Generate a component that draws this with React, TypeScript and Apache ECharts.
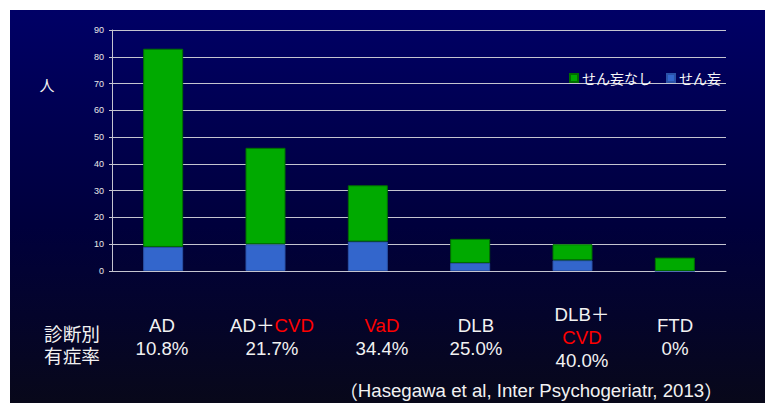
import React, { useEffect, useRef } from "react";
import * as echarts from "echarts";

const categories = ["AD", "AD+CVD", "VaD", "DLB", "DLB+CVD", "FTD"];
const deliriumValues = [9, 10, 11, 3, 4, 0];
const noDeliriumValues = [74, 36, 21, 9, 6, 5];
const yTicks = [0, 10, 20, 30, 40, 50, 60, 70, 80, 90];
const seriesNames = ["せん妄なし", "せん妄"];
const rateLabels = [
  "{w|AD}\n{w|10.8%}",
  "{w|AD＋}{r|CVD}\n{w|21.7%}",
  "{r|VaD}\n{w|34.4%}",
  "{w|DLB}\n{w|25.0%}",
  "{w|DLB＋}\n{r|CVD}\n{w|40.0%}",
  "{w|FTD}\n{w|0%}",
];
const rowTitleLines = ["診断別", "有症率"];
const unitLabel = "人";
const citation = "{p|（}{t|Hasegawa et al, Inter Psychogeriatr, 2013}{p|）}";

// layout only
const labelX = [162, 272, 382, 476, 582, 675];
const FS = 18.67;

const LATIN = "'Liberation Sans', Arial, 'Noto Sans CJK JP', sans-serif";
const CJK = "'Noto Sans CJK JP', sans-serif";

export default function App() {
  const ref = useRef<HTMLDivElement>(null);
  useEffect(() => {
    if (!ref.current) return;
    const chart = echarts.init(ref.current, null, { renderer: "svg" });
    const gridColor = "#c4c4d0";
    const rich = {
      w: { fill: "#f2f2f2", fontSize: FS, fontFamily: LATIN, lineHeight: 23 },
      r: { fill: "#ff0000", fontSize: FS, fontFamily: LATIN, lineHeight: 23 },
    };
    chart.setOption({
      animation: false,
      backgroundColor: "#ffffff",
      graphic: [
        {
          type: "rect",
          z: -10,
          silent: true,
          shape: { x: 10, y: 10, width: 755, height: 393 },
          style: {
            fill: new echarts.graphic.LinearGradient(0, 0, 0, 1, [
              { offset: 0, color: "#000066" },
              { offset: 0.55, color: "#00003c" },
              { offset: 1, color: "#08081a" },
            ]),
          },
        },
        {
          type: "text",
          x: 47,
          y: 84,
          style: {
            text: unitLabel,
            fill: "#f2f2f2",
            font: `15px ${CJK}`,
            textAlign: "center",
            textVerticalAlign: "middle",
          },
        },
        ...rowTitleLines.map((t, i) => ({
          type: "text",
          x: 72,
          y: 334 + i * 22,
          style: {
            text: t,
            fill: "#f2f2f2",
            font: `${FS}px ${LATIN}`,
            lineHeight: 20,
            textAlign: "center",
            textVerticalAlign: "middle",
          },
        })),
        ...rateLabels.map((t, i) => ({
          type: "text",
          x: labelX[i],
          y: 337,
          style: {
            text: t,
            rich,
            textAlign: "center",
            textVerticalAlign: "middle",
          },
        })),
        {
          type: "text",
          x: 531,
          y: 390,
          style: {
            text: citation,
            rich: {
              p: { fill: "#f2f2f2", fontSize: FS, fontFamily: CJK },
              t: { fill: "#f2f2f2", fontSize: FS, fontFamily: LATIN },
            },
            textAlign: "center",
            textVerticalAlign: "middle",
          },
        },
      ],
      legend: {
        data: seriesNames,
        left: 569,
        top: 71,
        padding: 0,
        itemWidth: 8,
        itemHeight: 8,
        itemGap: 14,
        icon: "rect",
        textStyle: { color: "#f8f8f8", fontSize: 14, fontFamily: CJK, padding: [0, 0, 0, -1] },
      },
      grid: { left: 112, right: 39, top: 30, bottom: 132 },
      xAxis: {
        type: "category",
        data: categories,
        axisLine: { lineStyle: { color: gridColor, width: 1 } },
        axisTick: { show: false },
        axisLabel: { show: false },
      },
      yAxis: {
        type: "value",
        min: yTicks[0],
        max: yTicks[yTicks.length - 1],
        interval: 10,
        axisLine: { show: true, lineStyle: { color: gridColor, width: 1 } },
        axisTick: { show: true, length: 3, lineStyle: { color: gridColor } },
        axisLabel: {
          color: "#e8e8e8",
          fontSize: 9,
          fontFamily: LATIN,
          margin: 8,
        },
        splitLine: { lineStyle: { color: gridColor, width: 1 } },
      },
      series: [
        {
          name: seriesNames[1],
          type: "bar",
          stack: "total",
          barWidth: 40,
          data: deliriumValues,
          itemStyle: { color: "#3366cc", borderColor: "#2a52a8", borderWidth: 1 },
        },
        {
          name: seriesNames[0],
          type: "bar",
          stack: "total",
          barWidth: 40,
          data: noDeliriumValues,
          itemStyle: { color: "#00aa00", borderColor: "#006e00", borderWidth: 1 },
        },
      ],
    });
    return () => chart.dispose();
  }, []);
  return (
    <div
      ref={ref}
      style={{ position: "absolute", left: 0, top: 0, width: 765, height: 403 }}
    />
  );
}
